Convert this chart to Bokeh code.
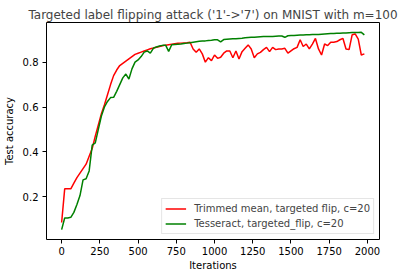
from bokeh.plotting import figure
from bokeh.models import FixedTicker, Range1d
from bokeh.embed import file_html
from bokeh.resources import INLINE

iterations = list(range(0, 2000, 20))

trimmed_mean = [
    0.085, 0.235, 0.235, 0.235, 0.26, 0.285, 0.305, 0.325, 0.345, 0.38,
    0.415, 0.47, 0.52, 0.57, 0.61, 0.655, 0.70, 0.74, 0.765, 0.785,
    0.795, 0.805, 0.815, 0.825, 0.835, 0.84, 0.845, 0.85, 0.855, 0.86,
    0.863, 0.867, 0.87, 0.873, 0.876, 0.878, 0.88, 0.882, 0.884, 0.885,
    0.886, 0.887, 0.889, 0.859, 0.844, 0.859, 0.837, 0.80, 0.82, 0.807,
    0.832, 0.817, 0.822, 0.84, 0.85, 0.85, 0.82, 0.85, 0.814, 0.847,
    0.862, 0.877, 0.859, 0.82, 0.837, 0.844, 0.856, 0.866, 0.847, 0.866,
    0.856, 0.859, 0.859, 0.862, 0.84, 0.85, 0.86, 0.866, 0.90, 0.87,
    0.881, 0.859, 0.881, 0.906, 0.859, 0.832, 0.881, 0.874, 0.889, 0.889,
    0.892, 0.90, 0.906, 0.859, 0.856, 0.922, 0.926, 0.903, 0.832, 0.837,
]

tesseract = [
    0.053, 0.105, 0.105, 0.108, 0.13, 0.165, 0.205, 0.275, 0.28, 0.315,
    0.43, 0.44, 0.50, 0.56, 0.60, 0.625, 0.642, 0.643, 0.67, 0.70,
    0.73, 0.747, 0.725, 0.77, 0.80, 0.81, 0.825, 0.845, 0.85, 0.84,
    0.862, 0.868, 0.872, 0.875, 0.876, 0.848, 0.878, 0.879, 0.88, 0.881,
    0.883, 0.885, 0.887, 0.889, 0.891, 0.893, 0.894, 0.895, 0.897, 0.898,
    0.90, 0.90, 0.891, 0.901, 0.902, 0.903, 0.904, 0.905, 0.906, 0.907,
    0.909, 0.91, 0.911, 0.911, 0.912, 0.913, 0.914, 0.914, 0.915, 0.915,
    0.916, 0.917, 0.917, 0.911, 0.918, 0.919, 0.919, 0.92, 0.921, 0.921,
    0.922, 0.922, 0.923, 0.924, 0.924, 0.925, 0.926, 0.927, 0.928, 0.928,
    0.929, 0.929, 0.93, 0.93, 0.931, 0.932, 0.932, 0.932, 0.933, 0.922,
]

x_ticks = [0, 250, 500, 750, 1000, 1250, 1500, 1750, 2000]
y_ticks = [0.2, 0.4, 0.6, 0.8]

title = "Targeted label flipping attack ('1'->'7') on MNIST with m=100"
label_red = "Trimmed mean, targeted flip, c=20"
label_green = "Tesseract, targeted_flip, c=20"

FONT = "DejaVu Sans"

p = figure(width=404, height=278, output_backend="svg", toolbar_location=None,
           min_border_left=44, min_border_right=25, min_border_top=22, min_border_bottom=39,
           x_range=Range1d(-99, 2079), y_range=Range1d(0.009, 0.977))

p.title.text = title
p.title.text_font = FONT
p.title.text_font_size = "12px"
p.title.text_font_style = "normal"
p.title.align = "center"
p.title.standoff = 2
p.title.offset = 0

p.line(iterations, trimmed_mean, line_color="red", line_width=1.5, legend_label=label_red)
p.line(iterations, tesseract, line_color="green", line_width=1.5, legend_label=label_green)

p.xgrid.visible = False
p.ygrid.visible = False
p.outline_line_color = "black"
p.outline_line_width = 1
p.background_fill_color = "white"
p.border_fill_color = "white"

for ax in (p.xaxis[0], p.yaxis[0]):
    ax.axis_line_color = None
    ax.major_tick_line_color = "black"
    ax.major_tick_in = 0
    ax.major_tick_out = 4
    ax.minor_tick_line_color = None
    ax.major_label_text_font = FONT
    ax.major_label_text_font_size = "10px"
    ax.major_label_text_color = "black"
    ax.axis_label_text_font = FONT
    ax.axis_label_text_font_size = "10px"
    ax.axis_label_text_font_style = "normal"
    ax.axis_label_text_color = "black"

p.xaxis.ticker = FixedTicker(ticks=x_ticks)
p.yaxis.ticker = FixedTicker(ticks=y_ticks)
p.xaxis.axis_label = "Iterations"
p.yaxis.axis_label = "Test accuracy"
p.xaxis.major_label_standoff = 3
p.yaxis.major_label_standoff = 4
p.xaxis.axis_label_standoff = 2
p.yaxis.axis_label_standoff = 5

lg = p.legend[0]
lg.location = "bottom_right"
lg.margin = 5
lg.padding = 3
lg.spacing = 2
lg.glyph_width = 21
lg.glyph_height = 13
lg.label_height = 13
lg.label_standoff = 8
lg.label_text_font = FONT
lg.label_text_font_size = "10px"
lg.border_line_color = "#cccccc"
lg.border_line_width = 1
lg.background_fill_alpha = 0.8

open("out.html", "w").write(file_html(p, INLINE))
